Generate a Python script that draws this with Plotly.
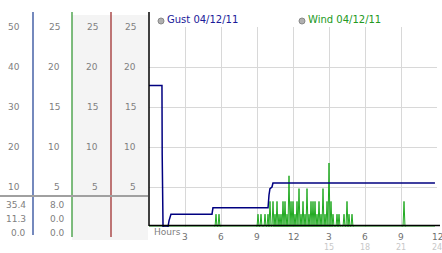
import plotly.graph_objects as go

W, H = 442, 253

# ---------------- data ----------------
# Gust (0-25 scale), time in hours
gust_t = [0.0, 1.08, 1.10, 1.17, 1.58, 1.67, 1.83, 5.25, 5.33, 9.92, 10.0, 10.08, 10.25, 10.33, 23.83]
gust_v = [17.7, 17.7, 9.0, 0.0, 0.0, 0.8, 1.6, 1.6, 2.4, 2.4, 4.0, 4.8, 5.0, 5.5, 5.5]

# Wind: non-zero readings (5-minute sample index), all other samples are 0
wind_idx = [67, 70, 109, 112, 116, 119, 121, 124, 126, 128, 130, 132, 134, 136, 138,
            140, 142, 144, 146, 148, 150, 152, 154, 156, 158, 160, 162, 164, 166, 168,
            170, 172, 174, 176, 178, 180, 182, 184, 188, 190, 195, 198, 200, 203, 255]
wind_val = [1.6, 1.6, 1.6, 1.6, 1.6, 1.6, 3.2, 3.2, 1.6, 3.2, 1.6, 1.6, 3.2, 3.2, 1.6,
            6.4, 3.2, 3.2, 1.6, 3.2, 4.8, 1.6, 3.2, 1.6, 4.8, 1.6, 3.2, 3.2, 3.2, 1.6,
            3.2, 1.6, 4.8, 1.6, 3.2, 8.0, 3.2, 1.6, 1.6, 1.6, 1.6, 3.2, 1.6, 1.6, 3.2]
wind_samples = 287  # 0 .. 23h50

# axis ticks / labels
y_ticks = [5, 10, 15, 20, 25]
col1_labels = ["10", "20", "30", "40", "50"]
col2_labels = ["5", "10", "15", "20", "25"]
col3_labels = ["5", "10", "15", "20", "25"]
col4_labels = ["5", "10", "15", "20", "25"]
x_ticks = [3, 6, 9, 12, 15, 18, 21, 24]
x_labels = ["3", "6", "9", "12", "3", "6", "9", "12"]
x_ticks2 = [15, 18, 21, 24]
x_labels2 = ["15", "18", "21", "24"]
stats_col1 = ["35.4", "11.3", "0.0"]
stats_col2 = ["8.0", "0.0", "0.0"]
legend_gust = "Gust 04/12/11"
legend_wind = "Wind 04/12/11"

# -------------- helpers --------------
def px(x):
    return x / W

def py(y):
    return 1 - y / H

wind_map = dict(zip(wind_idx, wind_val))
wind_t = [j / 12 for j in range(wind_samples)]
wind_v = [wind_map.get(j, 0.0) for j in range(wind_samples)]

FONT = "DejaVu Sans"
GUST_C = "#000080"
WIND_C = "#22aa22"

fig = go.Figure()
fig.add_trace(go.Scatter(x=wind_t, y=wind_v, mode="lines",
                         line=dict(color=WIND_C, width=1), cliponaxis=False,
                         hoverinfo="skip"))
fig.add_trace(go.Scatter(x=gust_t, y=gust_v, mode="lines",
                         line=dict(color=GUST_C, width=1.5), cliponaxis=False,
                         hoverinfo="skip"))
# small tick glyphs
fig.add_trace(go.Scatter(x=x_ticks, y=[-0.25] * len(x_ticks), mode="markers",
                         marker=dict(symbol="x", size=4, color="#aaaaaa"),
                         cliponaxis=False, hoverinfo="skip"))
fig.add_trace(go.Scatter(x=[-0.25] * len(y_ticks), y=y_ticks, mode="markers",
                         marker=dict(symbol="x", size=4, color="#aaaaaa"),
                         cliponaxis=False, hoverinfo="skip"))

shapes = []
# grey panel behind columns 3-4
shapes.append(dict(type="rect", xref="paper", yref="paper",
                   x0=px(72), x1=px(148), y0=py(240), y1=py(15),
                   fillcolor="#f4f4f4", line=dict(width=0), layer="below"))
# coloured column separators
for xx, col, yb in [(33, "#2a4a9a", 235), (72, "#3a9a3a", 237), (111, "#a03030", 237)]:
    shapes.append(dict(type="line", xref="paper", yref="paper",
                       x0=px(xx), x1=px(xx), y0=py(12), y1=py(yb),
                       line=dict(color=col, width=1.3)))
# grey separator above stats
shapes.append(dict(type="line", xref="paper", yref="paper",
                   x0=0, x1=px(148), y0=py(196), y1=py(196),
                   line=dict(color="#a0a0a0", width=2)))
# black axes
shapes.append(dict(type="line", xref="paper", yref="paper",
                   x0=px(149), x1=px(149), y0=py(12), y1=py(226),
                   line=dict(color="black", width=1.5)))
shapes.append(dict(type="line", xref="paper", yref="paper",
                   x0=px(149), x1=px(440), y0=py(225.5), y1=py(225.5),
                   line=dict(color="black", width=1.5)))
# legend circles
for cx in (161, 302):
    shapes.append(dict(type="circle", xref="paper", yref="paper",
                       x0=px(cx - 3), x1=px(cx + 3), y0=py(24), y1=py(18),
                       fillcolor="#b0b0b0", line=dict(color="#888888", width=1)))

ann = []
def label(x, y, text, color="#808080", size=9, xanchor="right", xref="paper", yref="paper"):
    ann.append(dict(x=x, y=y, xref=xref, yref=yref, text=text, showarrow=False,
                    xanchor=xanchor, yanchor="middle",
                    font=dict(family=FONT, size=size, color=color)))

for col_labels, xr in [(col1_labels, 21), (col2_labels, 61), (col3_labels, 99), (col4_labels, 137)]:
    for v, t in zip(y_ticks, col_labels):
        label(px(xr + 1), v, t, yref="y")

for i, (a, b) in enumerate(zip(stats_col1, stats_col2)):
    yy = py(205 + 14 * i)
    label(px(28), yy, a)
    label(px(67), yy, b)

for v, t in zip(x_ticks, x_labels):
    label(v, py(236.5), t, color="#707070", xanchor="center", xref="x")
for v, t in zip(x_ticks2, x_labels2):
    label(v, py(247.5), t, color="#c8c8c8", size=8, xanchor="center", xref="x")
label(px(152), py(232), "Hours", color="#808080", xanchor="left")

label(px(165), py(20), legend_gust, color="#1a1a99", size=10, xanchor="left")
label(px(306), py(20), legend_wind, color="#229922", size=10, xanchor="left")

fig.update_layout(
    width=W, height=H, margin=dict(l=0, r=0, t=0, b=0),
    paper_bgcolor="white", plot_bgcolor="white", showlegend=False,
    shapes=shapes, annotations=ann,
    xaxis=dict(domain=[px(149), px(437)], range=[0, 24], dtick=3, tick0=0,
               showgrid=True, gridcolor="#d8d8d8", gridwidth=1, zeroline=False,
               showticklabels=False, showline=False, fixedrange=True),
    yaxis=dict(domain=[py(227), py(27)], range=[0, 25], dtick=5, tick0=0,
               showgrid=True, gridcolor="#d8d8d8", gridwidth=1, zeroline=False,
               showticklabels=False, showline=False, fixedrange=True),
)

fig.write_html("out.html")
